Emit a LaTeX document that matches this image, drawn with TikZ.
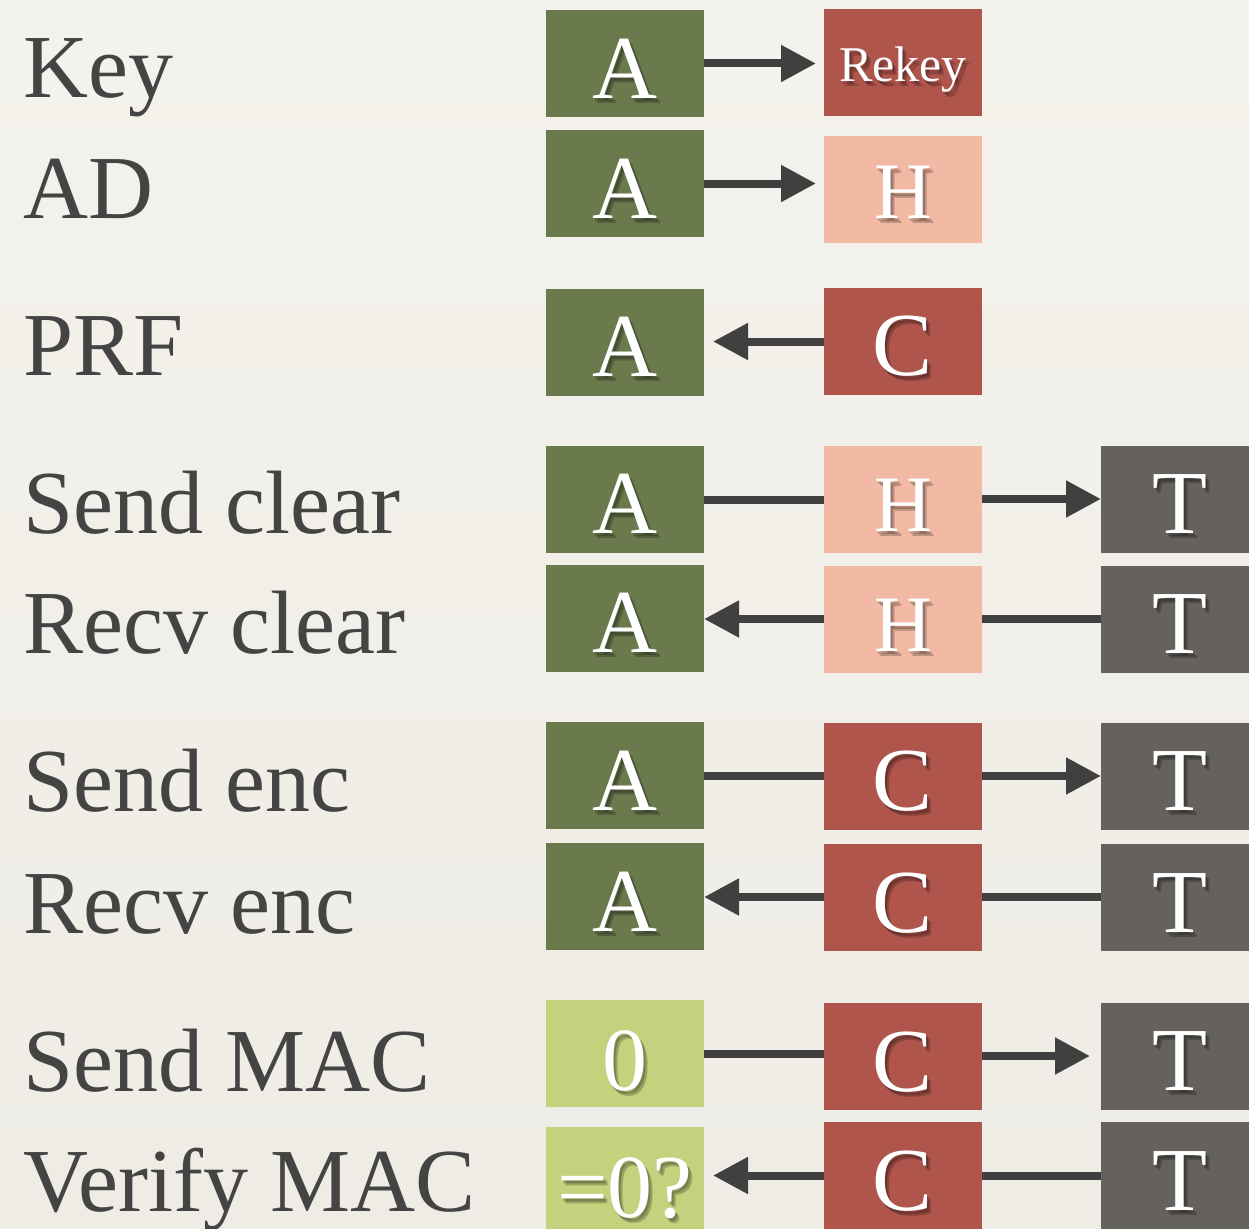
\documentclass[tikz,border=0pt]{standalone}
\usepackage{fontspec}
\setmainfont{Liberation Serif}
\usetikzlibrary{arrows.meta}
\definecolor{cgreen}{HTML}{6B7A4D}
\definecolor{cred}{HTML}{B0554C}
\definecolor{cpink}{HTML}{F2BAA5}
\definecolor{cgray}{HTML}{65615C}
\definecolor{clime}{HTML}{C5D17D}
\definecolor{labelgray}{HTML}{444444}
\definecolor{arrowgray}{HTML}{404040}
\definecolor{bgtop}{HTML}{F4F2EC}
\definecolor{bgmid}{HTML}{E6E3DD}
\definecolor{bgbot}{HTML}{EFECE6}
\tikzset{
  cellbox/.style={draw=none, minimum width=158pt, minimum height=107pt, inner sep=0pt, outer sep=0pt},
  celltxt/.style={text=white, inner sep=0pt, anchor=base},
  shadowtxt/.style={text=black, text opacity=0.22, inner sep=0pt, anchor=base},
  lbl/.style={text=labelgray, inner sep=0pt, anchor=base west, font=\fontsize{90pt}{90pt}\selectfont},
  conn/.style={draw=arrowgray, line width=8pt},
  arr/.style={conn, -{Triangle[length=35pt,width=35pt]}},
}
\newcommand\cell[6]{%
  \node[cellbox, fill=#3] (#1) at (#2) {};
  \node[shadowtxt, font=\fontsize{#4pt}{#4pt}\selectfont] (#1-sa) at ([shift={(2,#5+3)}]#1.center) {#6};
  \node[shadowtxt, font=\fontsize{#4pt}{#4pt}\selectfont] (#1-sb) at ([shift={(4,#5+5)}]#1.center) {#6};
  \node[celltxt, font=\fontsize{#4pt}{#4pt}\selectfont] (#1-t) at ([shift={(0,#5)}]#1.center) {#6};
}
\begin{document}
\begin{tikzpicture}[x=1pt, y=-1pt]
\useasboundingbox (0,0) rectangle (1249,1228);
\clip (0,0) rectangle (1249,1228);
\shade[top color=bgtop, middle color=bgmid, bottom color=bgbot] (0,0) rectangle (1249,1228);

% labels
\node[lbl] (lkey) at (23,98) {Key};
\node[lbl] (lad) at (23,218) {AD};
\node[lbl] (lprf) at (23,375) {PRF};
\node[lbl] (lsc) at (23,533) {Send clear};
\node[lbl] (lrc) at (23,653) {Recv clear};
\node[lbl] (lse) at (23,811) {Send enc};
\node[lbl] (lre) at (23,933) {Recv enc};
\node[lbl] (lsm) at (23,1091) {Send MAC};
\node[lbl] (lvm) at (23,1211) {Verify MAC};

% row 1
\cell{a1}{625,63.5}{cgreen}{90}{35.5}{A}
\cell{r1}{903,63}{cred}{50}{19}{Rekey}
% row 2
\cell{a2}{625,183.5}{cgreen}{90}{35}{A}
\cell{h2}{903,189.5}{cpink}{80}{28.5}{H}
% row 3
\cell{a3}{625,342}{cgreen}{90}{34}{A}
\cell{c3}{903,341.5}{cred}{90}{34}{C}
% row 4
\cell{a4}{625,499.5}{cgreen}{90}{34}{A}
\cell{h4}{903,499}{cpink}{80}{32}{H}
\cell{t4}{1180,499}{cgray}{90}{34}{T}
% row 5
\cell{a5}{625,618.5}{cgreen}{90}{34}{A}
\cell{h5}{903,619}{cpink}{80}{32}{H}
\cell{t5}{1180,619}{cgray}{90}{34}{T}
% row 6
\cell{a6}{625,775.5}{cgreen}{90}{34.5}{A}
\cell{c6}{903,776}{cred}{90}{34.5}{C}
\cell{t6}{1180,776}{cgray}{90}{34.5}{T}
% row 7
\cell{a7}{625,896.5}{cgreen}{90}{35}{A}
\cell{c7}{903,897}{cred}{90}{35}{C}
\cell{t7}{1180,897}{cgray}{90}{35}{T}
% row 8
\cell{z8}{625,1053.5}{clime}{90}{36.5}{0}
\cell{c8}{903,1056}{cred}{90}{35}{C}
\cell{t8}{1180,1056}{cgray}{90}{34}{T}
% row 9
\cell{q9}{625,1180.5}{clime}{90}{37}{=0?}
\cell{c9}{903,1175.5}{cred}{90}{35}{C}
\cell{t9}{1180,1175.5}{cgray}{90}{35}{T}

% connectors
\draw[arr, shorten >=8pt] (a1.east) -- (a1.east -| r1.west);
\draw[arr, shorten >=8pt] (a2.east) -- (a2.east -| h2.west);
\draw[arr, shorten >=9pt] (c3.west) -- (c3.west -| a3.east);
\draw[conn] (a4.east) -- (a4.east -| h4.west);
\draw[arr] (h4.east) -- (h4.east -| t4.west);
\draw[conn] (t5.west) -- (t5.west -| h5.east);
\draw[arr] (h5.west) -- (h5.west -| a5.east);
\draw[conn] (a6.east) -- (a6.east -| c6.west);
\draw[arr] (c6.east) -- (c6.east -| t6.west);
\draw[conn] (t7.west) -- (t7.west -| c7.east);
\draw[arr] (c7.west) -- (c7.west -| a7.east);
\draw[conn] (z8.east) -- (z8.east -| c8.west);
\draw[arr, shorten >=11pt] (c8.east) -- (c8.east -| t8.west);
\draw[arr, shorten >=9pt] (c9.west) -- (c9.west -| q9.east);
\draw[conn] (t9.west) -- (t9.west -| c9.east);
\end{tikzpicture}
\end{document}
